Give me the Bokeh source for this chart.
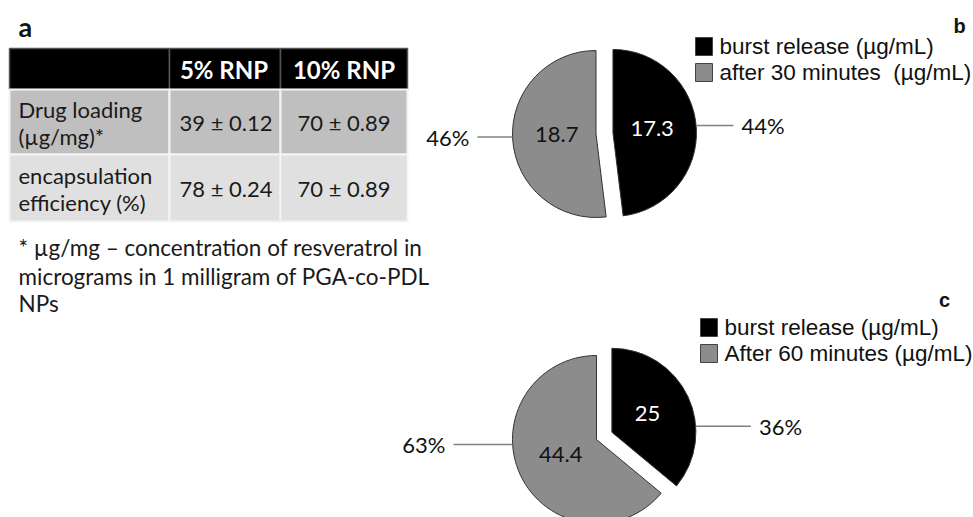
import math
from bokeh.plotting import figure
from bokeh.models import Range1d
from bokeh.embed import file_html
from bokeh.resources import INLINE
from bokeh.core.properties import value

# ---------------- data ----------------
table_header = ["", "5% RNP", "10% RNP"]
row_labels = [["Drug loading", "(µg/mg)*"], ["encapsulation", "efficiency (%)"]]
rnp5_values = ["39 ± 0.12", "78 ± 0.24"]
rnp10_values = ["70 ± 0.89", "70 ± 0.89"]
footnote = ["* µg/mg – concentration of resveratrol in",
            "micrograms in 1 milligram of PGA-co-PDL",
            "NPs"]

b_categories = ["burst release (µg/mL)", "after 30 minutes\u00a0\u00a0(µg/mL)"]
b_values = [17.3, 18.7]
b_percent = ["44%", "46%"]

c_categories = ["burst release (µg/mL)", "After 60 minutes (µg/mL)"]
c_values = [25, 44.4]
c_percent = ["36%", "63%"]

slice_colors = ["#000000", "#8c8c8c"]
value_text_colors = ["#ffffff", "#111111"]

# ---------------- layout ----------------
W, H = 973, 517


def Y(ys):
    return H - ys


p = figure(width=W, height=H, x_range=Range1d(0, W), y_range=Range1d(0, H),
           output_backend="svg", toolbar_location=None, min_border=0,
           x_axis_type=None, y_axis_type=None)
p.grid.visible = False
p.outline_line_color = None
p.background_fill_color = "white"
p.border_fill_color = "white"

BODY = value("Lato")
ARIAL = value("Liberation Sans")

# ---- panel a: table ----
col_edges = [9, 169, 280, 407]
row_edges = [48, 89, 154, 221]
row_fills = ["#000000", "#bfbfbf", "#e0e0e0"]

for ri in range(3):
    for ci in range(3):
        p.quad(left=[col_edges[ci]], right=[col_edges[ci + 1]],
               top=[Y(row_edges[ri])], bottom=[Y(row_edges[ri + 1])],
               fill_color=row_fills[ri],
               line_color="#555555" if ri == 0 else "#f4f4f4",
               line_width=1.5 if ri == 0 else 2)

col_centers = [(col_edges[i] + col_edges[i + 1]) / 2 for i in range(3)]
row_centers = [(row_edges[i] + row_edges[i + 1]) / 2 for i in range(3)]

p.text(x=[col_centers[1] - 1, col_centers[2]], y=[Y(row_centers[0])] * 2,
       text=table_header[1:], text_color="white", text_font=BODY,
       text_font_style="bold", text_font_size="24px",
       text_align="center", text_baseline="middle")

for ri in range(2):
    yc = row_centers[ri + 1]
    p.text(x=[18, 18], y=[Y(yc - 13), Y(yc + 14)], text=row_labels[ri],
           text_color="#1a1a1a", text_font=BODY, text_font_size="22px",
           text_align="left", text_baseline="middle")
    p.text(x=[col_centers[1] + 1, col_centers[2]], y=[Y(yc)] * 2,
           text=[rnp5_values[ri], rnp10_values[ri]],
           text_color="#1a1a1a", text_font=BODY, text_font_size="22px",
           text_align="center", text_baseline="middle")

p.text(x=[18] * 3, y=[Y(247), Y(276), Y(303)], text=footnote,
       text_color="#1a1a1a", text_font=BODY, text_font_size="22.5px",
       text_align="left", text_baseline="middle")

p.text(x=[18], y=[Y(26)], text=["a"], text_color="#111111", text_font=BODY,
       text_font_style="bold", text_font_size="27px",
       text_align="left", text_baseline="middle")


# ---- pies ----
def draw_pie(vals, pcts, cats, cx, cy, r, explode, right_lead, left_lead,
             legend_x, legend_y, tag, tag_xy):
    total = sum(vals)
    cum = 0.0
    centers = []
    for i, v in enumerate(vals):
        a0 = math.pi / 2 - 2 * math.pi * cum / total
        cum += v
        a1 = math.pi / 2 - 2 * math.pi * cum / total
        am = (a0 + a1) / 2
        ex = explode[i]
        sx = cx + ex * math.cos(am)
        sy = Y(cy) + ex * math.sin(am)
        centers.append((sx, sy))
        p.wedge(x=[sx], y=[sy], radius=r, start_angle=[a1], end_angle=[a0],
                fill_color=slice_colors[i], line_color="#333333", line_width=1)
        lr = 0.47 * r
        p.text(x=[sx + lr * math.cos(am)], y=[sy + lr * math.sin(am) + 2],
               text=[f"{v:g}"], text_color=value_text_colors[i], text_font=BODY,
               text_font_size="22px", text_align="center", text_baseline="middle")
    # percent labels with leader lines
    (bx, by) = centers[0]
    ly = by + right_lead[1]
    x0 = bx + r
    p.line(x=[x0, x0 + right_lead[0]], y=[ly, ly], line_color="#808080", line_width=1.5)
    p.text(x=[x0 + right_lead[0] + 8], y=[ly], text=[pcts[0]], text_color="#111111",
           text_font=BODY, text_font_size="22px", text_align="left", text_baseline="middle")
    (gx, gy) = centers[1]
    ly = gy + left_lead[1]
    x0 = gx - r
    p.line(x=[x0 - left_lead[0], x0], y=[ly, ly], line_color="#808080", line_width=1.5)
    p.text(x=[x0 - left_lead[0] - 8], y=[ly], text=[pcts[1]], text_color="#111111",
           text_font=BODY, text_font_size="22px", text_align="right", text_baseline="middle")
    # legend
    for i, cat in enumerate(cats):
        yy = legend_y + 26 * i
        p.quad(left=[legend_x], right=[legend_x + 17], top=[Y(yy - 9)], bottom=[Y(yy + 9)],
               fill_color=slice_colors[i], line_color="#444444", line_width=1)
        p.text(x=[legend_x + 24], y=[Y(yy)], text=[cat], text_color="#111111",
               text_font=ARIAL, text_font_size="22.5px", text_align="left",
               text_baseline="middle")
    p.text(x=[tag_xy[0]], y=[Y(tag_xy[1])], text=[tag], text_color="#111111",
           text_font=ARIAL, text_font_style="bold", text_font_size="20px",
           text_align="center", text_baseline="middle")


draw_pie(b_values, b_percent, b_categories, cx=595.5, cy=133.5, r=83.5,
         explode=[17, 0], right_lead=(37, 7.5), left_lead=(35, -3),
         legend_x=695, legend_y=46, tag="b", tag_xy=(959, 25))

draw_pie(c_values, c_percent, c_categories, cx=596, cy=439, r=84,
         explode=[17, 0], right_lead=(55, 6), left_lead=(59, -5),
         legend_x=700, legend_y=327, tag="c", tag_xy=(944, 299))

open("out.html", "w").write(file_html(p, INLINE))
